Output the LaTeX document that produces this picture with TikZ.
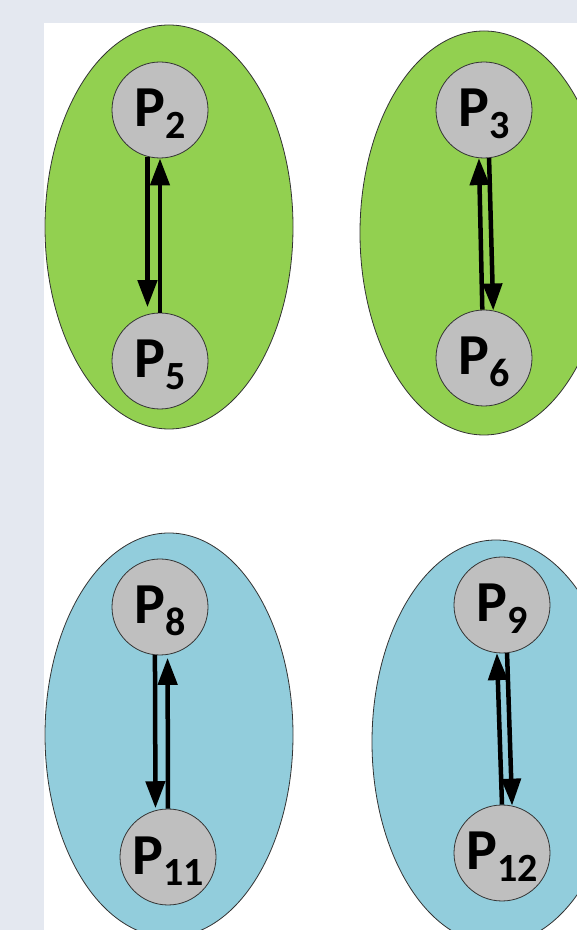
\documentclass[tikz,border=0pt]{standalone}
\usepackage{fontspec}
\setmainfont{Carlito}
\usetikzlibrary{arrows.meta}
\definecolor{strip}{HTML}{E4E8F0}
\definecolor{grpgreen}{HTML}{92D050}
\definecolor{grpblue}{HTML}{92CDDC}
\definecolor{procgray}{HTML}{BFBFBF}
\newcommand{\plab}[1]{P\kern0.5pt\raisebox{-12pt}{\fontsize{40}{40}\selectfont #1}}
\begin{document}
\begin{tikzpicture}[x=1pt,y=1pt,
  grp/.style={draw=black!80,line width=0.8pt},
  proc/.style={circle,draw=black!80,line width=0.8pt,fill=procgray,minimum size=96pt,inner sep=0pt,
    font=\fontsize{58}{58}\selectfont\bfseries,text height=37pt,text depth=3pt},
  arr/.style={line width=4.5pt,-{Triangle[length=27pt,width=19pt]}}]
\useasboundingbox (0,0) rectangle (577,930);
\clip (0,0) rectangle (577,930);
\fill[strip] (0,0) rectangle (577,930);
\fill[white] (44,0) rectangle (577,907);
% groups
\draw[grp,fill=grpgreen] (169,703) ellipse [x radius=124, y radius=202];
\draw[grp,fill=grpgreen] (484,697) ellipse [x radius=124, y radius=202];
\draw[grp,fill=grpblue] (169,195) ellipse [x radius=124, y radius=202];
\draw[grp,fill=grpblue] (496,188) ellipse [x radius=124, y radius=202];
% processes
\node[proc] (P2) at (160,820) {\plab{2}};
\node[proc] (P5) at (160,569) {\plab{5}};
\node[proc] (P3) at (484,820) {\plab{3}};
\node[proc] (P6) at (484,572) {\plab{6}};
\node[proc] (P8) at (160,323) {\plab{8}};
\node[proc] (P11) at (168,73) {\plab{11}};
\node[proc] (P9) at (502,325) {\plab{9}};
\node[proc] (P12) at (502,77) {\plab{12}};
% connectors
\draw[arr,shorten >=7pt] (P2.255) -- (P5.105);
\draw[arr] (P5.north) -- (P2.south);
\draw[arr] (P6.92) -- (P3.264);
\draw[arr] (P3.276) -- (P6.79);
\draw[arr,shorten >=2pt] (P8.264) -- (P11.105);
\draw[arr,shorten >=3pt] (P11.north) -- (P8.279);
\draw[arr] (P12.north) -- (P9.264);
\draw[arr] (P9.276) -- (P12.78);
\end{tikzpicture}
\end{document}
